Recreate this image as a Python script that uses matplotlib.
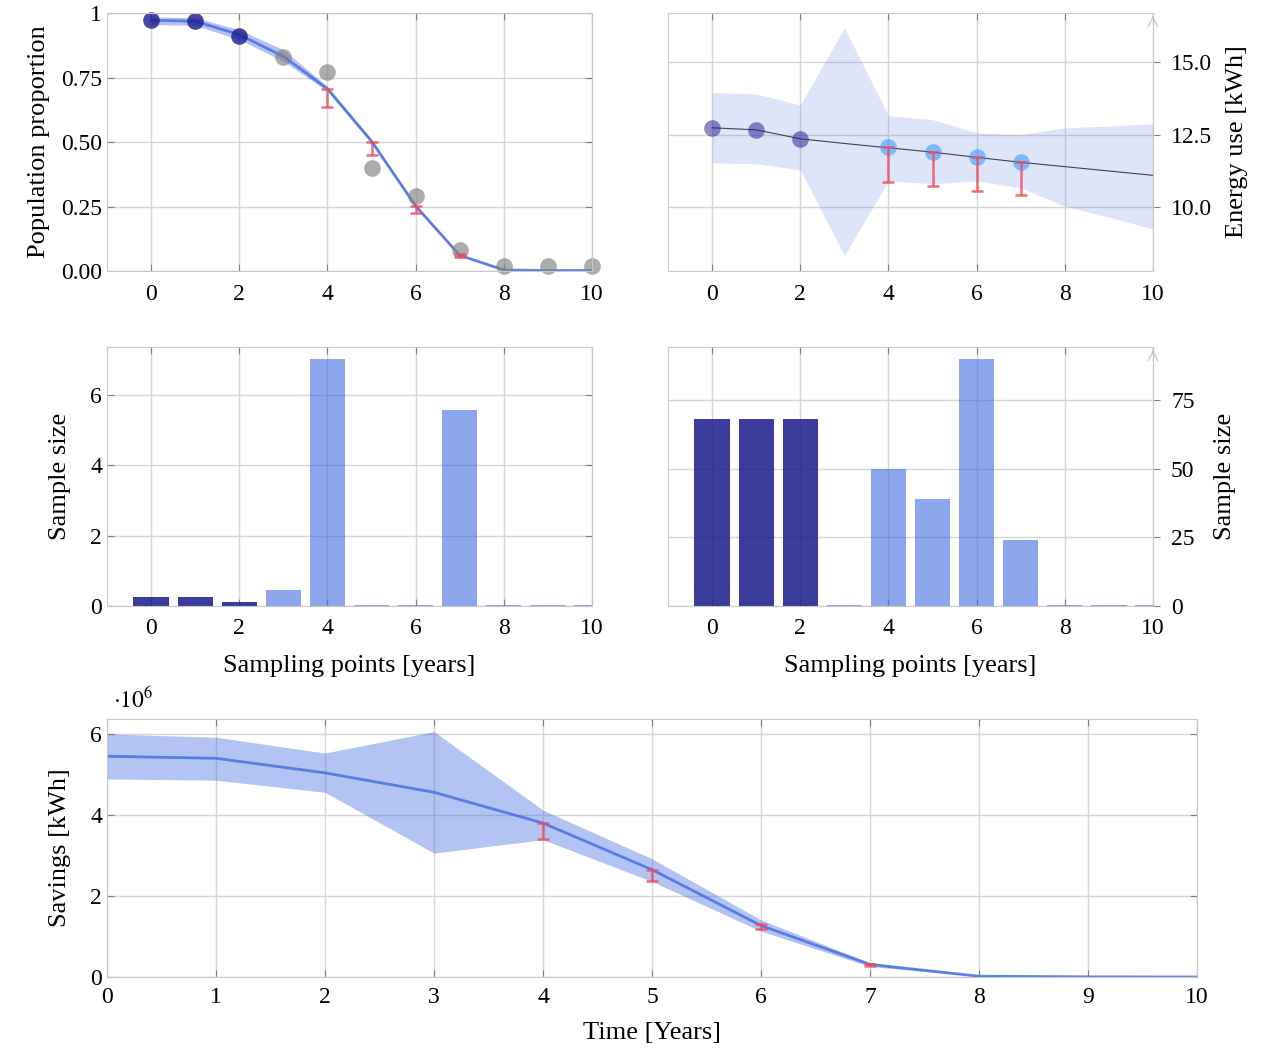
import numpy as np
import matplotlib
matplotlib.use("Agg")
import matplotlib.pyplot as plt

plt.rcParams['font.family'] = ['Liberation Serif', 'DejaVu Serif']
plt.rcParams['mathtext.fontset'] = 'stix'
plt.rcParams['font.size'] = 17

years = np.arange(11)

# top left: population proportion
prop_line = [0.972, 0.968, 0.916, 0.832, 0.706, 0.503, 0.252, 0.061, 0.004, 0.002, 0.002]
prop_hi = [0.985, 0.982, 0.935, 0.858, 0.715, 0.510, 0.258, 0.064, 0.006, 0.003, 0.003]
prop_lo = [0.955, 0.952, 0.897, 0.813, 0.697, 0.496, 0.246, 0.058, 0.002, 0.001, 0.001]
prop_obs = [0.972, 0.970, 0.912, 0.830, 0.770, 0.400, 0.290, 0.081, 0.019, 0.019, 0.019]
prop_err_x = [4, 5, 6, 7]
prop_err_top = [0.706, 0.500, 0.252, 0.065]
prop_err_bot = [0.636, 0.449, 0.226, 0.055]

# top right: energy use
energy_line = [12.74, 12.67, 12.36, 12.2, 12.05, 11.9, 11.72, 11.55, 11.4, 11.25, 11.1]
energy_hi = [13.95, 13.91, 13.53, 16.19, 13.16, 13.02, 12.57, 12.5, 12.74, 12.8, 12.88]
energy_lo = [11.53, 11.5, 11.29, 8.33, 10.91, 10.81, 10.91, 10.67, 10.03, 9.66, 9.24]
energy_obs_x = [0, 1, 2, 4, 5, 6, 7]
energy_obs = [12.74, 12.67, 12.36, 12.09, 11.91, 11.74, 11.57]
energy_err_x = [4, 5, 6, 7]
energy_err_top = [12.09, 11.91, 11.74, 11.57]
energy_err_bot = [10.88, 10.74, 10.57, 10.43]

# middle: sample sizes
sample_left = [0.25, 0.25, 0.11, 0.46, 7.03, 0.03, 0.03, 5.58, 0.03, 0.03, 0.03]
sample_right = [68, 68, 68, 0.4, 50, 39, 90, 24, 0.4, 0.4, 0.4]

# bottom: savings (x 1e6)
sav_line = [5.45, 5.40, 5.04, 4.56, 3.80, 2.65, 1.27, 0.31, 0.02, 0.005, 0.0]
sav_hi = [6.0, 5.92, 5.53, 6.06, 4.12, 2.92, 1.41, 0.35, 0.03, 0.01, 0.0]
sav_lo = [4.89, 4.86, 4.56, 3.06, 3.39, 2.36, 1.13, 0.26, 0.01, 0.0, 0.0]
sav_err_x = [4, 5, 6, 7]
sav_err_top = [3.80, 2.63, 1.30, 0.31]
sav_err_bot = [3.40, 2.37, 1.18, 0.26]

W, H = 1268, 1050
fig = plt.figure(figsize=(W / 100, H / 100), dpi=100)


def box(x0, y0, x1, y1):
    return [x0 / W, 1 - y1 / H, (x1 - x0) / W, (y1 - y0) / H]


def style(ax):
    ax.grid(True, color='#d6d6d6', linewidth=1)
    ax.set_axisbelow(True)
    for s in ax.spines.values():
        s.set_color('#c8c8c8')
    ax.tick_params(direction='in', length=5, color='#808080', top=True, right=True, labelsize=17)
    ax.tick_params(axis='x', pad=9)


def errbars(ax, x, top, bot):
    top = np.array(top)
    bot = np.array(bot)
    ax.errorbar(x, top, yerr=[top - bot, np.zeros_like(top)], fmt='none',
                ecolor='#f04a5a', alpha=0.8, elinewidth=1.8, capsize=4, capthick=1.8, zorder=5)


navy = '#1a1a8c'
royal = 'royalblue'
lab = 19

# top left
ax1 = fig.add_axes(box(107, 13, 592, 271))
style(ax1)
ax1.fill_between(years, prop_lo, prop_hi, color=royal, alpha=0.4, lw=0)
ax1.plot(years, prop_line, color=royal, alpha=0.8, lw=2)
ax1.plot(years[:3], prop_obs[:3], 'o', color=navy, alpha=0.8, ms=12, mew=0, clip_on=False)
ax1.plot(years[3:], prop_obs[3:], 'o', color='gray', alpha=0.65, ms=12, mew=0, clip_on=False)
errbars(ax1, prop_err_x, prop_err_top, prop_err_bot)
ax1.set_xlim(-1, 10)
ax1.set_ylim(0, 1)
ax1.set_xticks([0, 2, 4, 6, 8, 10])
ax1.set_yticks([0, 0.25, 0.5, 0.75, 1])
ax1.set_yticklabels(['0.00', '0.25', '0.50', '0.75', '1'])
ax1.set_ylabel('Population proportion', fontsize=lab, labelpad=8)

# top right
ax2 = fig.add_axes(box(668, 13, 1153, 271))
style(ax2)
ax2.fill_between(years, energy_lo, energy_hi, color=royal, alpha=0.17, lw=0)
ax2.plot(years, energy_line, color='#404050', lw=0.8)
ax2.plot(energy_obs_x[:3], energy_obs[:3], 'o', color=navy, alpha=0.5, ms=12, mew=0)
ax2.plot(energy_obs_x[3:], energy_obs[3:], 'o', color='dodgerblue', alpha=0.5, ms=12, mew=0)
errbars(ax2, energy_err_x, energy_err_top, energy_err_bot)
ax2.set_xlim(-1, 10)
ax2.set_ylim(7.8, 16.7)
ax2.set_xticks([0, 2, 4, 6, 8, 10])
ax2.set_yticks([10, 12.5, 15])
ax2.set_yticklabels(['10.0', '12.5', '15.0'])
ax2.yaxis.tick_right()
ax2.yaxis.set_label_position('right')
ax2.tick_params(axis='y', direction='out', left=False, right=True, pad=8)
ax2.set_ylabel('Energy use [kWh]', fontsize=lab, labelpad=10)

# middle left
bar_cols = [navy] * 3 + [royal] * 8
bar_alpha = [0.85] * 3 + [0.6] * 8
ax3 = fig.add_axes(box(107, 347, 592, 606))
style(ax3)
for x, h, c, a in zip(years, sample_left, bar_cols, bar_alpha):
    ax3.bar(x, h, width=0.8, color=c, alpha=a, lw=0)
ax3.set_xlim(-1, 10)
ax3.set_ylim(0, 7.37)
ax3.set_xticks([0, 2, 4, 6, 8, 10])
ax3.set_yticks([0, 2, 4, 6])
ax3.set_ylabel('Sample size', fontsize=lab, labelpad=14)
ax3.set_xlabel('Sampling points [years]', fontsize=lab, labelpad=11)

# middle right
ax4 = fig.add_axes(box(668, 347, 1153, 606))
style(ax4)
for x, h, c, a in zip(years, sample_right, bar_cols, bar_alpha):
    ax4.bar(x, h, width=0.8, color=c, alpha=a, lw=0)
ax4.set_xlim(-1, 10)
ax4.set_ylim(0, 94.4)
ax4.set_xticks([0, 2, 4, 6, 8, 10])
ax4.set_yticks([0, 25, 50, 75])
ax4.yaxis.tick_right()
ax4.yaxis.set_label_position('right')
ax4.tick_params(axis='y', direction='out', left=False, right=True, pad=8)
ax4.set_ylabel('Sample size', fontsize=lab, labelpad=14)
ax4.set_xlabel('Sampling points [years]', fontsize=lab, labelpad=11)

for ax in (ax2, ax4):
    ax.annotate('', xy=(1, 1.0), xytext=(1, 0.97), xycoords='axes fraction',
                arrowprops=dict(arrowstyle='->', color='#c8c8c8', lw=1))

# bottom
ax5 = fig.add_axes(box(107, 719, 1197, 977))
style(ax5)
ax5.fill_between(years, sav_lo, sav_hi, color=royal, alpha=0.4, lw=0)
ax5.plot(years, sav_line, color=royal, alpha=0.8, lw=2)
errbars(ax5, sav_err_x, sav_err_top, sav_err_bot)
ax5.set_xlim(0, 10)
ax5.set_ylim(0, 6.37)
ax5.set_xticks(years)
ax5.set_yticks([0, 2, 4, 6])
ax5.tick_params(axis='x', pad=7)
ax5.set_ylabel('Savings [kWh]', fontsize=lab, labelpad=14)
ax5.set_xlabel('Time [Years]', fontsize=lab, labelpad=10)
fig.text(113 / W, 1 - 700 / H, r'$\cdot 10^6$', fontsize=17, va='center')

fig.savefig('out.png', dpi=100)
